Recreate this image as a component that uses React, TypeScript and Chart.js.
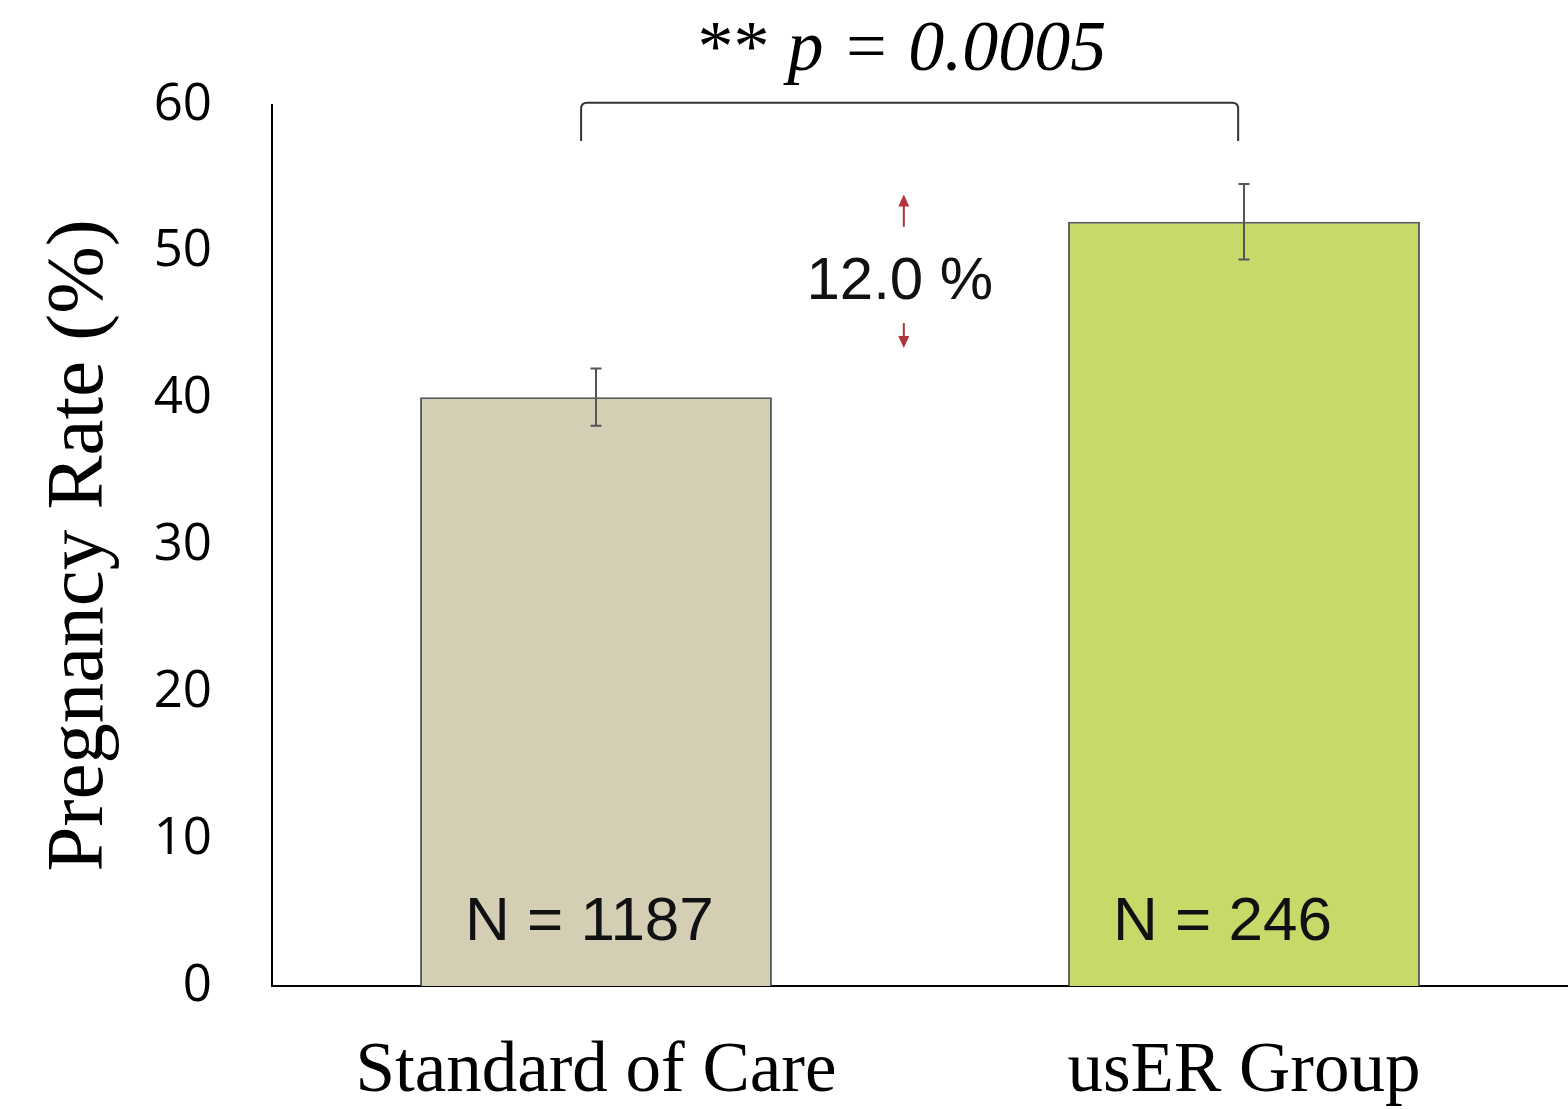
import React, { useEffect, useRef } from "react";
import { Chart, registerables } from "chart.js";

Chart.register(...registerables);

const categories = ["Standard of Care", "usER Group"];
const rates = [40.1, 52.05];
const errors = [1.95, 2.57];
const sampleSizes = [1187, 246];
const barColors = ["#D4CEB4", "#C8D96A"];
const yMin = 0;
const yMax = 60;
const yStep = 10;
const differenceLabel = "12.0 %";
const pStars = "**";
const pText = " p = 0.0005";

// annotation anchors in data units (x = category index, y = rate)
const diffX = 0.475;
const diffTextY = 46.8;
const upArrow = [51.7, 53.9];
const downArrow = [45.15, 43.45];
const bracketX = [-0.023, 0.991];
const bracketY = [60.15, 57.55];
const pTextX = 0.472;
const pTextY = 62.4;
const nLabelY = 3.1;

const overlayPlugin = {
  id: "overlay",
  afterDatasetsDraw(chart: any) {
    const { ctx } = chart;
    const xs = chart.scales.x;
    const ys = chart.scales.y;
    const meta = chart.getDatasetMeta(0);
    ctx.save();
    // error bars
    ctx.strokeStyle = "#555555";
    ctx.lineWidth = 2;
    meta.data.forEach((bar: any, i: number) => {
      const x = bar.x;
      const yTop = ys.getPixelForValue(rates[i] + errors[i]);
      const yBot = ys.getPixelForValue(rates[i] - errors[i]);
      ctx.beginPath();
      ctx.moveTo(x, yTop);
      ctx.lineTo(x, yBot);
      ctx.moveTo(x - 5.5, yTop);
      ctx.lineTo(x + 5.5, yTop);
      ctx.moveTo(x - 5.5, yBot);
      ctx.lineTo(x + 5.5, yBot);
      ctx.stroke();
    });
    // N labels
    ctx.fillStyle = "#111111";
    ctx.font = "62px 'Liberation Sans', Arial, sans-serif";
    ctx.textAlign = "left";
    ctx.textBaseline = "alphabetic";
    meta.data.forEach((bar: any, i: number) => {
      const left = bar.x - bar.width / 2;
      ctx.fillText("N = " + sampleSizes[i], left + 45, ys.getPixelForValue(nLabelY));
    });
    // difference label
    const dx = xs.getPixelForValue(diffX);
    ctx.font = "60px 'Liberation Sans', Arial, sans-serif";
    ctx.textAlign = "center";
    ctx.fillText(differenceLabel, dx - 4, ys.getPixelForValue(diffTextY));
    // red arrows
    ctx.strokeStyle = "#B0323A";
    ctx.fillStyle = "#B0323A";
    ctx.lineWidth = 2;
    const drawArrow = (from: number, to: number) => {
      const y0 = ys.getPixelForValue(from);
      const y1 = ys.getPixelForValue(to);
      const dir = y1 < y0 ? -1 : 1;
      ctx.beginPath();
      ctx.moveTo(dx, y0);
      ctx.lineTo(dx, y1 - dir * 10);
      ctx.stroke();
      ctx.beginPath();
      ctx.moveTo(dx, y1);
      ctx.lineTo(dx - 5.5, y1 - dir * 12);
      ctx.lineTo(dx + 5.5, y1 - dir * 12);
      ctx.closePath();
      ctx.fill();
    };
    drawArrow(upArrow[0], upArrow[1]);
    drawArrow(downArrow[0], downArrow[1]);
    // bracket
    const bx0 = xs.getPixelForValue(bracketX[0]);
    const bx1 = xs.getPixelForValue(bracketX[1]);
    const byT = ys.getPixelForValue(bracketY[0]);
    const byB = ys.getPixelForValue(bracketY[1]);
    ctx.strokeStyle = "#333333";
    ctx.lineWidth = 2;
    ctx.beginPath();
    ctx.moveTo(bx0, byB);
    ctx.lineTo(bx0, byT + 6);
    ctx.quadraticCurveTo(bx0, byT, bx0 + 6, byT);
    ctx.lineTo(bx1 - 6, byT);
    ctx.quadraticCurveTo(bx1, byT, bx1, byT + 6);
    ctx.lineTo(bx1, byB);
    ctx.stroke();
    // p-value
    const px = xs.getPixelForValue(pTextX);
    const py = ys.getPixelForValue(pTextY);
    ctx.fillStyle = "#000000";
    const fNormal = "72px 'Liberation Serif', 'Times New Roman', serif";
    const fItalic = "italic 72px 'Liberation Serif', 'Times New Roman', serif";
    ctx.font = fNormal;
    const w1 = ctx.measureText(pStars).width;
    ctx.font = fItalic;
    const w2 = ctx.measureText(pText).width;
    const start = px - (w1 + w2) / 2;
    ctx.textAlign = "left";
    ctx.font = fNormal;
    ctx.fillText(pStars, start, py);
    ctx.font = fItalic;
    ctx.fillText(pText, start + w1, py);
    ctx.restore();
  },
};

export default function App() {
  const canvasRef = useRef<HTMLCanvasElement | null>(null);
  useEffect(() => {
    if (!canvasRef.current) return;
    const chart = new Chart(canvasRef.current, {
      type: "bar",
      data: {
        labels: categories,
        datasets: [
          {
            data: rates,
            backgroundColor: barColors,
            borderColor: "#5A5A5A",
            borderWidth: 2,
            categoryPercentage: 1,
            barPercentage: 0.543,
          },
        ],
      },
      options: {
        animation: false,
        responsive: false,
        devicePixelRatio: 1,
        layout: { padding: { top: 105, left: 0, right: 0, bottom: 0 } },
        plugins: {
          legend: { display: false },
          tooltip: { enabled: false },
        },
        scales: {
          x: {
            grid: { display: false, drawTicks: false },
            border: { display: true, color: "#000000", width: 2 },
            ticks: {
              color: "#000000",
              padding: 44,
              font: { family: "'Liberation Serif', 'Times New Roman', serif", size: 71 },
            },
            afterFit(scale: any) {
              scale.height = 123;
            },
          },
          y: {
            min: yMin,
            max: yMax,
            grid: { display: false, drawTicks: false },
            border: { display: true, color: "#000000", width: 2 },
            ticks: {
              stepSize: yStep,
              color: "#000000",
              padding: 60,
              font: { family: "'Open Sans', sans-serif", size: 51 },
            },
            title: {
              display: true,
              text: "Pregnancy Rate (%)",
              color: "#000000",
              padding: { top: 32, bottom: 0 },
              font: { family: "'Liberation Serif', 'Times New Roman', serif", size: 81 },
            },
            afterFit(scale: any) {
              scale.width = 272;
            },
          },
        },
      },
      plugins: [overlayPlugin],
    });
    return () => chart.destroy();
  }, []);
  return (
    <div style={{ position: "absolute", left: 0, top: 0, width: 1568, height: 1109, background: "#fff" }}>
      <canvas ref={canvasRef} width={1568} height={1109} />
    </div>
  );
}
